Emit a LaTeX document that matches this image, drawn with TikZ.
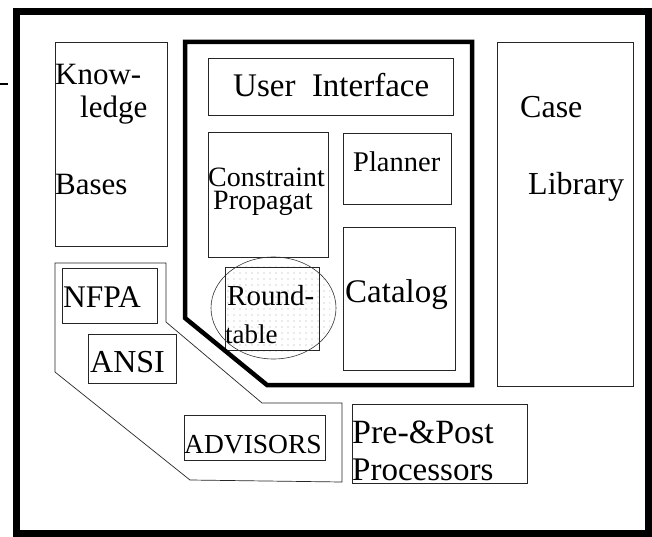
\documentclass[tikz,border=0pt]{standalone}
\usepackage{fontspec}
\setmainfont{Liberation Serif}
\usetikzlibrary{patterns.meta}
\newcommand\fsz[1]{\fontsize{#1}{#1}\selectfont}
\tikzset{
  box/.style={draw=black!85, line width=0.8pt, rectangle, inner sep=0pt, anchor=north west},
  lbl/.style={inner sep=0pt, anchor=base west},
  frameline/.style={line width=7pt},
  sysline/.style={line width=4.5pt, line join=miter},
  groupline/.style={draw=black!85, line width=0.7pt},
  stipple/.style={pattern={Dots[radius=0.55pt, distance=6pt]}, pattern color=black!35},
}
\begin{document}
\begin{tikzpicture}[x=1pt, y=-1pt]
\useasboundingbox (0,0) rectangle (652,537);
\fill[white] (0,0) rectangle (652,537);

% outer frame and stray tick at the left
\draw[frameline] (16,12) rectangle (648,533);
\draw[line width=1.8pt] (0,84) -- (8,84);

% sparse stipple inside the round-table region
\begin{scope}
  \clip (273.5,308) ellipse (62.5 and 51);
  \fill[stipple] (225,262) rectangle (330,352);
\end{scope}

% component boxes
\node[box, minimum width=112pt, minimum height=204pt] (kb) at (55,42) {};
\node[box, minimum width=245pt, minimum height=57pt] (ui) at (208,58) {};
\node[box, minimum width=120pt, minimum height=125pt] (cp) at (208,132) {};
\node[box, minimum width=108pt, minimum height=71pt] (pl) at (343,133) {};
\node[box, minimum width=112pt, minimum height=143pt] (cat) at (343,227) {};
\node[box, minimum width=136pt, minimum height=344pt] (cl) at (497,42) {};
\node[box, minimum width=94pt, minimum height=83pt] (rt) at (225,267) {};
\node[box, minimum width=95pt, minimum height=55pt] (nfpa) at (62,268) {};
\node[box, minimum width=88pt, minimum height=49pt] (ansi) at (88,334) {};
\node[box, minimum width=141pt, minimum height=45pt] (adv) at (184,415) {};
\node[box, minimum width=175pt, minimum height=79pt] (pp) at (352,404) {};

% round-table ellipse
\draw[black!80, line width=0.6pt] (273.5,308) ellipse (62.5 and 51);

% system boundary (thick) and advisors group outline
\draw[sysline] (185,42) -- (472,42) -- (472,385) -- (267,385) -- (185,318) -- cycle;
\draw[groupline] (55,263) -- (166,263) -- (166,322) -- (262,403) -- (342,403)
  -- (342,482) -- (190,480) -- (55,372) -- cycle;

% labels
\node[lbl] (tk1) at (55,85) {\fsz{31}Know-};
\node[lbl] (tk2) at (80,118) {\fsz{31}ledge};
\node[lbl] (tk3) at (55,195) {\fsz{31}Bases};
\node[lbl] (tui) at (233,97) {\fsz{33}User\ \ Interface};
\node[lbl, align=left, font=\fontsize{28}{23}\selectfont] (tcp) at (208,209)
  {Constraint\\\hspace*{5pt}Propagat};
\node[lbl] (tpl) at (353,172) {\fsz{28.5}Planner};
\node[lbl] (tcs) at (520,118) {\fsz{32}Case};
\node[lbl] (tlb) at (528,195) {\fsz{32}Library};
\node[lbl] (tca) at (345,302) {\fsz{33}Catalog};
\node[lbl] (tnf) at (63,307) {\fsz{31.5}NFPA};
\node[lbl] (tan) at (90,372) {\fsz{32}ANSI};
\node[lbl] (tr1) at (227,305) {\fsz{29}Round-};
\node[lbl] (tr2) at (225,343) {\fsz{27}table};
\node[lbl] (tad) at (184,453) {\fsz{27.5}ADVISORS};
\node[lbl] (tp1) at (352,443) {\fsz{34}Pre-\&Post};
\node[lbl] (tp2) at (352,480) {\fsz{33}Processors};
\end{tikzpicture}
\end{document}
